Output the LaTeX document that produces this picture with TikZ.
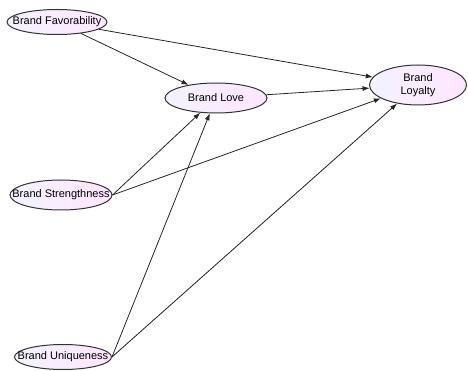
\documentclass[tikz,border=0pt]{standalone}
\usepackage{fontspec}
\setmainfont{Liberation Sans}
\usetikzlibrary{shapes.geometric}
\usetikzlibrary{arrows.meta}

\tikzset{
  construct/.style={ellipse, draw=black!80, line width=1pt, inner sep=0pt,
    left color=blue!5, right color=magenta!10},
  constructtext/.style={font=\fontsize{11}{12.5}\selectfont, text=black, align=center, inner sep=0pt},
  path/.style={-{Latex[length=7pt,width=5pt]}, line width=0.8pt, black!85}
}

\begin{document}
\begin{tikzpicture}[x=1pt,y=-1pt]
        \useasboundingbox (0,0) rectangle (468,371);

        \node[construct, minimum width=100pt, minimum height=25pt, label={[constructtext]center:Brand Favorability}] (fav) at (57,22) {};
        \node[construct, minimum width=102pt, minimum height=30pt, label={[constructtext]center:Brand Love}] (love) at (216,98) {};
        \node[construct, minimum width=97pt, minimum height=40pt, label={[constructtext]center:Brand\\Loyalty}] (loy) at (418,85) {};
        \node[construct, minimum width=102pt, minimum height=30pt, label={[constructtext]center:Brand Strengthness}] (str) at (61,195) {};
        \node[construct, minimum width=97pt, minimum height=25pt, label={[constructtext]center:Brand Uniqueness}] (uniq) at (63,357) {};

        \draw[path] (fav) -- (love);
        \draw[path] (fav) -- (loy);
        \draw[path] (love) -- (loy);
        \draw[path] (str.east) -- (love);
        \draw[path] (str.east) -- (loy);
        \draw[path] (uniq.east) -- (love);
        \draw[path] (uniq.east) -- (loy);
\end{tikzpicture}
\end{document}
